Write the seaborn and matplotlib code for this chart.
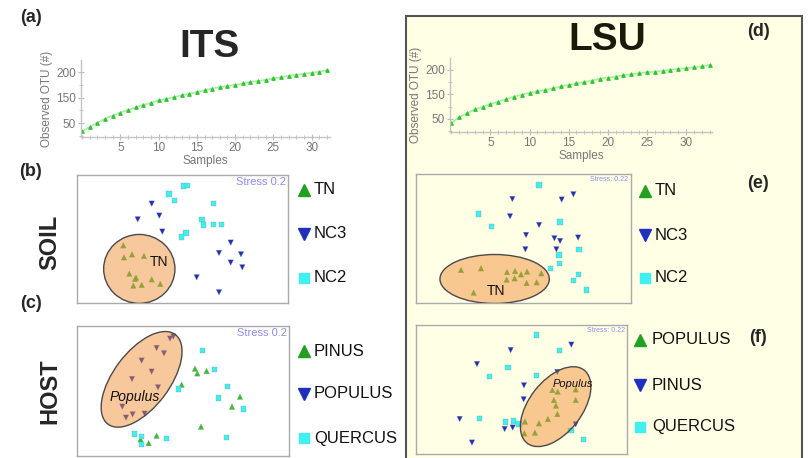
import numpy as np
import pandas as pd
import matplotlib
matplotlib.use("Agg")
import matplotlib.pyplot as plt
from matplotlib.patches import Ellipse, Rectangle
from matplotlib.lines import Line2D
from matplotlib.ticker import MultipleLocator
import seaborn as sns

sns.set_style("white")
plt.rcParams['font.family'] = ['Liberation Sans', 'DejaVu Sans']

W, H = 809, 458

# rarefaction curves (observed OTU per added sample)
its_otu = [84, 93, 101, 109, 115, 121, 126, 131, 136, 140, 145, 148, 151, 155, 158, 161,
           165, 168, 171, 173, 175, 178, 181, 183, 185, 188, 190, 193, 195, 197, 199, 201, 204]
lsu_otu = [91, 103, 111, 119, 124, 130, 135, 140, 145, 149, 153, 156, 159, 162, 166, 169,
           172, 175, 178, 182, 184, 186, 189, 191, 193, 195, 196, 198, 200, 202, 203, 205, 207, 210]
otu_tick_pos = [100, 150, 200]
otu_tick_labels = ["50", "150", "200"]
sample_ticks = [5, 10, 15, 20, 25, 30]

# NMDS ITS soil
its_tn_x = [-0.592, -0.585, -0.505, -0.385, -0.532, -0.475, -0.465, -0.492, -0.408, -0.308, -0.222]
its_tn_y = [-0.062, -0.182, -0.152, -0.168, -0.345, -0.398, -0.385, -0.465, -0.458, -0.402, -0.448]
its_nc3_x = [-0.308, -0.232, -0.448, -0.202, 0.482, 0.365, 0.585, 0.482, 0.598, 0.142, 0.365]
its_nc3_y = [0.355, 0.235, 0.198, 0.075, -0.035, -0.138, -0.152, -0.235, -0.282, -0.382, -0.532]
its_nc2_x = [0.008, 0.048, -0.135, -0.078, 0.312, 0.195, 0.208, 0.308, 0.388, 0.035, -0.008]
its_nc2_y = [0.532, 0.535, 0.452, 0.388, 0.358, 0.198, 0.142, 0.145, 0.148, 0.062, 0.022]

# NMDS ITS host
its_pinus_x = [0.117, 0.140, 0.233, -0.017, 0.567, 0.487, 0.177, -0.267, -0.347, -0.427]
its_pinus_y = [0.222, 0.175, 0.198, 0.062, -0.058, -0.158, -0.358, -0.448, -0.522, -0.485]
its_populus_x = [-0.133, -0.100, -0.267, -0.193, -0.417, -0.317, -0.513, -0.253, -0.610, -0.507, -0.573, -0.387]
its_populus_y = [0.522, 0.542, 0.428, 0.375, 0.302, 0.192, 0.118, 0.035, -0.158, -0.235, -0.268, -0.228]
its_quercus_x = [0.190, 0.313, -0.047, 0.443, 0.350, 0.603, 0.430, -0.490, -0.420, -0.420, -0.167]
its_quercus_y = [0.402, 0.212, 0.018, 0.045, -0.072, -0.182, -0.465, -0.432, -0.458, -0.538, -0.478]

# NMDS LSU soil
lsu_tn_x = [-0.623, -0.423, -0.163, -0.083, -0.023, 0.037, 0.180, -0.167, -0.087, 0.033, 0.133, -0.497]
lsu_tn_y = [-0.312, -0.295, -0.332, -0.322, -0.355, -0.328, -0.345, -0.408, -0.395, -0.442, -0.435, -0.538]
lsu_nc3_x = [-0.110, 0.383, 0.500, -0.133, 0.157, 0.027, 0.310, 0.367, 0.547, 0.020, 0.330]
lsu_nc3_y = [0.398, 0.392, 0.445, 0.225, 0.138, 0.038, 0.005, -0.022, 0.012, -0.105, -0.105]
lsu_nc2_x = [0.157, -0.447, -0.317, 0.367, 0.557, 0.357, 0.363, 0.273, 0.550, 0.503, 0.630]
lsu_nc2_y = [0.538, 0.248, 0.125, 0.168, -0.108, -0.162, -0.248, -0.295, -0.355, -0.415, -0.512]

# NMDS LSU host
lsu_populus_x = [0.307, 0.360, 0.540, 0.323, 0.540, 0.343, 0.357, 0.263, 0.173, 0.033, 0.027, 0.133]
lsu_populus_y = [-0.007, -0.023, 0.000, -0.107, -0.107, -0.163, -0.247, -0.297, -0.340, -0.323, -0.440, -0.433]
lsu_pinus_x = [-0.110, 0.497, -0.447, 0.357, 0.023, 0.020, -0.620, -0.170, -0.090, 0.540, -0.497]
lsu_pinus_y = [0.393, 0.447, 0.253, 0.173, 0.040, -0.100, -0.297, -0.397, -0.383, -0.350, -0.533]
lsu_quercus_x = [0.150, 0.377, -0.137, -0.320, 0.147, -0.420, -0.163, -0.083, -0.027, 0.493, 0.617]
lsu_quercus_y = [0.543, 0.387, 0.220, 0.127, 0.140, -0.290, -0.327, -0.317, -0.347, -0.410, -0.503]

GREEN = "#2ec42e"
BLUE = "#1f2fbf"
CYAN = "#3ff0f0"
MARK = {"up": "^", "down": "v", "sq": "s"}

fig = plt.figure(figsize=(W / 100, H / 100), dpi=100)


def px_axes(x0, y0, x1, y1):
    return fig.add_axes([x0 / W, 1 - y1 / H, (x1 - x0) / W, (y1 - y0) / H])


def ftext(x, y, s, **kw):
    fig.text(x / W, 1 - y / H, s, **kw)


# beige panel for LSU
fig.add_artist(Rectangle((405.5 / W, -0.1), (802 - 405.5) / W, 1.1 - 16 / H, transform=fig.transFigure,
                         facecolor="#ffffe6", edgecolor="#555555", lw=1.5, zorder=-1))


def rarefaction(ax, otu, xmax):
    samples = np.arange(len(otu))
    sns.lineplot(x=samples, y=otu, ax=ax, color="#a6eea6", lw=1.2, marker="^", markersize=2.6,
                 markerfacecolor=GREEN, markeredgecolor=GREEN)
    ax.set_facecolor("none")
    ax.set_xlim(-0.15, xmax)
    ax.set_ylim(73, 224)
    ax.set_xticks(sample_ticks)
    ax.set_yticks(otu_tick_pos)
    ax.set_yticklabels(otu_tick_labels)
    ax.xaxis.set_minor_locator(MultipleLocator(1))
    ax.yaxis.set_minor_locator(MultipleLocator(25))
    for s in ["top", "right"]:
        ax.spines[s].set_visible(False)
    for s in ["left", "bottom"]:
        ax.spines[s].set_color("#c4c4c4")
        ax.spines[s].set_linewidth(1)
    ax.tick_params(which="both", direction="inout", color="#bbbbbb", labelcolor="#777777",
                   labelsize=8.5, pad=1.5)
    ax.tick_params(which="major", length=4, left=True, bottom=True)
    ax.tick_params(which="minor", length=2.5, left=True, bottom=True)
    ax.set_xlabel("Samples", color="#777777", fontsize=8.5, labelpad=1)
    ax.set_ylabel("Observed OTU (#)", color="#777777", fontsize=8.5, labelpad=2)


def nmds(ax, groups, xl, yl, stress, stress_size, ell, label, label_style, label_size):
    rows = []
    for name, xs, ys, mk, col in groups:
        for a, b in zip(xs, ys):
            rows.append({"NMDS1": a, "NMDS2": b, "group": name})
    df = pd.DataFrame(rows)
    palette = {g[0]: g[4] for g in groups}
    markers = {g[0]: MARK[g[3]] for g in groups}
    sns.scatterplot(data=df, x="NMDS1", y="NMDS2", hue="group", style="group", palette=palette,
                    markers=markers, s=16, edgecolor="#888888", linewidth=0.2, legend=False, ax=ax,
                    zorder=2)
    ax.set_xlim(-xl, xl)
    ax.set_ylim(-yl, yl)
    ax.set_xticks([])
    ax.set_yticks([])
    ax.set_xlabel("")
    ax.set_ylabel("")
    ax.set_facecolor("none")
    for s in ax.spines.values():
        s.set_color("#aaaaaa")
        s.set_linewidth(1)
    (cx, cy, w, h, ang) = ell
    ax.add_patch(Ellipse((cx, cy), w, h, angle=ang, facecolor="#f28b30", alpha=0.47, lw=0, zorder=3))
    ax.add_patch(Ellipse((cx, cy), w, h, angle=ang, facecolor="none", edgecolor="#4a4a4a", lw=1, zorder=4))
    ax.text(label[0], label[1], label[2], fontsize=label_size, style=label_style, ha="center", va="center",
            zorder=5, color="#111111")
    ax.text(0.99, 0.985, stress, transform=ax.transAxes, ha="right", va="top", fontsize=stress_size,
            color="#8c8cf2")


def legend(entries, xm, xt, ys):
    for (name, mk, col), y in zip(entries, ys):
        ms = 7.5 if mk == "sq" else 9
        fig.add_artist(Line2D([xm / W], [1 - y / H], marker=MARK[mk], ms=ms, color=col, lw=0,
                              transform=fig.transFigure))
        ftext(xt, y, name, fontsize=12, ha="left", va="center", color="#111111")


# (a) ITS rarefaction
ax_a = px_axes(81, 60, 330, 137)
rarefaction(ax_a, its_otu, 32.4)
# (d) LSU rarefaction
ax_d = px_axes(450, 58, 712, 132)
rarefaction(ax_d, lsu_otu, 33.3)

# (b) ITS soil
ax_b = px_axes(76.7, 175, 288.3, 303.3)
nmds(ax_b, [("TN", its_tn_x, its_tn_y, "up", GREEN), ("NC3", its_nc3_x, its_nc3_y, "down", BLUE),
            ("NC2", its_nc2_x, its_nc2_y, "sq", CYAN)],
     1.058, 0.642, "Stress 0.2", 8, (-0.432, -0.298, 0.713, 0.69, 0), (-0.232, -0.225, "TN"), "normal", 10)
legend([("TN", "up", "#22a022"), ("NC3", "down", BLUE), ("NC2", "sq", CYAN)], 304, 314, [190, 234, 278])

# (c) ITS host
ax_c = px_axes(77.3, 326, 289.3, 455.7)
nmds(ax_c, [("PINUS", its_pinus_x, its_pinus_y, "up", GREEN),
            ("POPULUS", its_populus_x, its_populus_y, "down", BLUE),
            ("QUERCUS", its_quercus_x, its_quercus_y, "sq", CYAN)],
     1.06, 0.648, "Stress 0.2", 8, (-0.417, 0.115, 1.12, 0.56, 53), (-0.483, -0.065, "Populus"), "italic", 10)
legend([("PINUS", "up", "#22a022"), ("POPULUS", "down", BLUE), ("QUERCUS", "sq", CYAN)], 304, 314,
       [351, 394, 438])

# (e) LSU soil
ax_e = px_axes(416, 174.3, 630.7, 303.3)
nmds(ax_e, [("TN", lsu_tn_x, lsu_tn_y, "up", GREEN), ("NC3", lsu_nc3_x, lsu_nc3_y, "down", BLUE),
            ("NC2", lsu_nc2_x, lsu_nc2_y, "sq", CYAN)],
     1.073, 0.645, "Stress: 0.22", 5, (-0.287, -0.402, 1.093, 0.49, 0), (-0.277, -0.518, "TN"), "normal", 10)
legend([("TN", "up", "#22a022"), ("NC3", "down", BLUE), ("NC2", "sq", CYAN)], 645, 655, [191, 235, 278])

# (f) LSU host
ax_f = px_axes(416, 324.7, 627.3, 454)
nmds(ax_f, [("POPULUS", lsu_populus_x, lsu_populus_y, "up", GREEN),
            ("PINUS", lsu_pinus_x, lsu_pinus_y, "down", BLUE),
            ("QUERCUS", lsu_quercus_x, lsu_quercus_y, "sq", CYAN)],
     1.057, 0.647, "Stress: 0.22", 5, (0.340, -0.173, 0.927, 0.527, 52), (0.517, 0.053, "Populus"), "italic", 8)
legend([("POPULUS", "up", "#22a022"), ("PINUS", "down", BLUE), ("QUERCUS", "sq", CYAN)], 640, 652,
       [340, 385, 427])

# titles and panel letters
ftext(210, 47, "ITS", fontsize=28, fontweight="bold", ha="center", va="center")
ftext(607, 40, "LSU", fontsize=28, fontweight="bold", ha="center", va="center", color="#1a1a0a")
for s, x, y in [("(a)", 31, 17), ("(b)", 31, 172), ("(c)", 31, 303), ("(d)", 758, 31),
                ("(e)", 758, 184), ("(f)", 758, 338)]:
    ftext(x, y, s, fontsize=13, fontweight="bold", ha="center", va="center")
ftext(50, 242, "SOIL", fontsize=17, fontweight="bold", rotation=90, ha="center", va="center")
ftext(50, 391, "HOST", fontsize=17, fontweight="bold", rotation=90, ha="center", va="center")

fig.savefig("out.png", dpi=100)
